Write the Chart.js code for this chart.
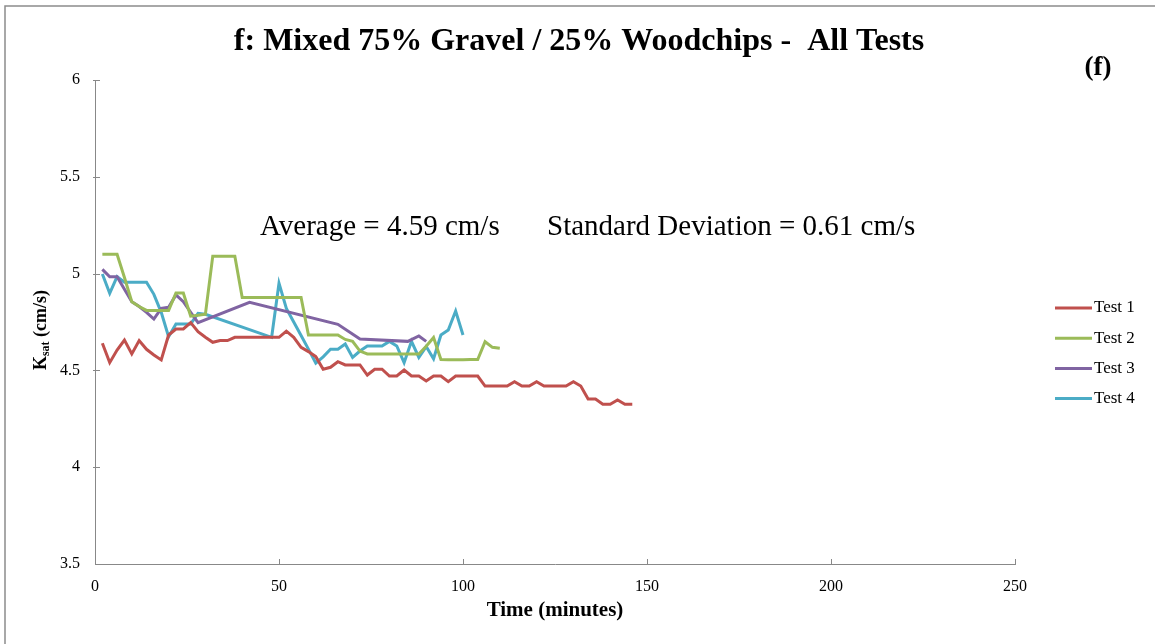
<!DOCTYPE html>
<html>
<head>
<meta charset="utf-8">
<script src="https://cdn.jsdelivr.net/npm/chart.js@4.4.1/dist/chart.umd.min.js"></script>
<style>
  html, body { margin: 0; padding: 0; background: #ffffff; }
  #wrap { position: relative; width: 1155px; height: 644px; }
</style>
</head>
<body>
<div id="wrap"><canvas id="c" width="1155" height="644"></canvas></div>
<script>
// Saturated hydraulic conductivity (cm/s) over elapsed time (minutes), four tests
const test1Time = [2,4,6,8,10,12,14,16,18,20,22,24,26,28,30,32,34,36,38,40,42,44,46,48,50,52,54,56,58,60,62,64,66,68,70,72,74,76,78,80,82,84,86,88,90,92,94,96,98,100,102,104,106,108,110,112,114,116,118,120,122,124,126,128,130,132,134,136,138,140,142,144,146];
const test1Ksat = [4.64,4.54,4.605,4.657,4.585,4.654,4.609,4.58,4.554,4.683,4.714,4.714,4.747,4.70,4.671,4.645,4.654,4.654,4.671,4.671,4.671,4.671,4.671,4.671,4.671,4.703,4.671,4.619,4.597,4.571,4.506,4.516,4.545,4.528,4.528,4.528,4.476,4.506,4.506,4.471,4.471,4.502,4.471,4.471,4.445,4.471,4.471,4.442,4.471,4.471,4.471,4.471,4.419,4.419,4.419,4.419,4.442,4.419,4.419,4.442,4.419,4.419,4.419,4.419,4.442,4.419,4.352,4.352,4.325,4.325,4.347,4.325,4.325];

const test2Time = [2,4,6,8,10,12,14,16,18,20,22,24,26,28,30,32,34,36,38,40,42,44,46,48,50,52,54,56,58,60,62,64,66,68,70,72,74,76,78,80,82,84,86,88,90,92,94,96,98,100,102,104,106,108,110];
const test2Ksat = [5.10,5.10,5.10,4.98,4.855,4.83,4.81,4.81,4.81,4.81,4.90,4.90,4.78,4.785,4.79,5.09,5.09,5.09,5.09,4.877,4.877,4.877,4.877,4.877,4.877,4.877,4.877,4.877,4.683,4.683,4.683,4.683,4.683,4.66,4.65,4.60,4.585,4.585,4.585,4.585,4.585,4.585,4.585,4.585,4.625,4.67,4.556,4.555,4.555,4.555,4.556,4.556,4.648,4.619,4.614];

const test3Time = [2,4,6,8,10,12,14,16,18,20,22,24,26,28,42,66,72,85,88,90];
const test3Ksat = [5.022,4.984,4.984,4.919,4.855,4.83,4.80,4.765,4.82,4.826,4.89,4.855,4.80,4.747,4.852,4.738,4.662,4.65,4.678,4.65];

const test4Time = [2,4,6,8,10,12,14,16,18,20,22,24,26,28,30,48,50,52,54,56,58,60,62,64,66,68,70,72,74,76,78,80,82,84,86,88,90,92,94,96,98,100];
const test4Ksat = [4.998,4.898,4.984,4.955,4.955,4.955,4.955,4.893,4.80,4.674,4.74,4.74,4.74,4.795,4.79,4.671,4.95,4.82,4.75,4.68,4.61,4.537,4.57,4.609,4.609,4.636,4.567,4.60,4.626,4.626,4.626,4.65,4.626,4.54,4.65,4.567,4.623,4.56,4.683,4.709,4.807,4.683];

const seriesNames = ['Test 1', 'Test 2', 'Test 3', 'Test 4'];
const seriesColors = ['#C0504D', '#9BBB59', '#8064A2', '#4BACC6'];
const yTickValues = [3.5, 4, 4.5, 5, 5.5, 6];
const yTickLabels = ['3.5', '4', '4.5', '5', '5.5', '6'];
const xTickValues = [0, 50, 100, 150, 200, 250];
const xTickLabels = ['0', '50', '100', '150', '200', '250'];

const chartTitle = 'f: Mixed 75% Gravel / 25% Woodchips -  All Tests';
const panelTag = '(f)';
const averageText = 'Average = 4.59 cm/s';
const stdevText = 'Standard Deviation = 0.61 cm/s';

const SERIF = '"Liberation Serif", "Times New Roman", serif';

function toPoints(ts, vs) { return ts.map((t, i) => ({ x: t, y: vs[i] })); }

const seriesData = [
  toPoints(test1Time, test1Ksat),
  toPoints(test2Time, test2Ksat),
  toPoints(test3Time, test3Ksat),
  toPoints(test4Time, test4Ksat)
];

// Frame, headings, statistics note, y-axis title, inward tick marks and legend
const decorations = {
  id: 'decorations',
  beforeDraw(chart) {
    const ctx = chart.ctx;
    ctx.save();
    ctx.fillStyle = '#ffffff';
    ctx.fillRect(0, 0, chart.width, chart.height);
    ctx.strokeStyle = '#8c8c8c';
    ctx.lineWidth = 1.5;
    ctx.beginPath();
    ctx.moveTo(5, chart.height);
    ctx.lineTo(5, 6);
    ctx.lineTo(chart.width, 6);
    ctx.stroke();
    ctx.restore();
  },
  afterDraw(chart) {
    const ctx = chart.ctx;
    const xs = chart.scales.x, ys = chart.scales.y;
    const area = chart.chartArea;
    ctx.save();

    // tick marks pointing into the plot
    ctx.strokeStyle = '#888888';
    ctx.lineWidth = 1;
    ctx.beginPath();
    yTickValues.forEach(v => {
      if (v === ys.min) return;
      const y = Math.round(ys.getPixelForValue(v)) + 0.5;
      ctx.moveTo(area.left - 2, y);
      ctx.lineTo(area.left + 5, y);
    });
    xTickValues.forEach(v => {
      if (v === xs.min) return;
      const x = Math.round(xs.getPixelForValue(v)) + 0.5;
      ctx.moveTo(x, area.bottom);
      ctx.lineTo(x, area.bottom - 5);
    });
    ctx.stroke();

    // headings
    ctx.fillStyle = '#000000';
    ctx.textBaseline = 'middle';
    ctx.textAlign = 'center';
    ctx.font = 'bold 32px ' + SERIF;
    ctx.fillText(chartTitle, 579, 42);
    ctx.font = 'bold 27px ' + SERIF;
    ctx.fillText(panelTag, 1098, 68);

    // statistics note
    ctx.textAlign = 'left';
    ctx.font = '29px ' + SERIF;
    ctx.fillText(averageText, 260, 227);
    ctx.fillText(stdevText, 547, 227);

    // y-axis title with subscript
    ctx.save();
    ctx.translate(41, 330);
    ctx.rotate(-Math.PI / 2);
    const mainFont = 'bold 18px ' + SERIF;
    const subFont = 'bold 12px ' + SERIF;
    ctx.font = mainFont; const wK = ctx.measureText('K').width;
    const wRest = ctx.measureText(' (cm/s)').width;
    ctx.font = subFont; const wSub = ctx.measureText('sat').width;
    let px = -(wK + wSub + wRest) / 2;
    ctx.textAlign = 'left';
    ctx.font = mainFont; ctx.fillText('K', px, 0); px += wK;
    ctx.font = subFont; ctx.fillText('sat', px, 5); px += wSub;
    ctx.font = mainFont; ctx.fillText(' (cm/s)', px, 0);
    ctx.restore();

    // legend
    ctx.font = '17px ' + SERIF;
    ctx.textAlign = 'left';
    ctx.lineWidth = 3;
    chart.data.datasets.forEach((ds, i) => {
      const y = 308 + i * 30.2;
      ctx.strokeStyle = ds.borderColor;
      ctx.beginPath();
      ctx.moveTo(1055, y);
      ctx.lineTo(1092, y);
      ctx.stroke();
      ctx.fillStyle = '#000000';
      ctx.fillText(ds.label, 1094, y);
    });
    ctx.restore();
  }
};

new Chart(document.getElementById('c'), {
  type: 'line',
  data: {
    datasets: seriesNames.map((name, i) => ({
      label: name,
      data: seriesData[i],
      borderColor: seriesColors[i],
      backgroundColor: seriesColors[i],
      borderWidth: 3,
      pointRadius: 0,
      tension: 0,
      fill: false
    }))
  },
  options: {
    responsive: false,
    animation: false,
    devicePixelRatio: 1,
    layout: { padding: { left: 0, right: 140, top: 80, bottom: 0 } },
    plugins: { legend: { display: false }, title: { display: false }, tooltip: { enabled: false } },
    scales: {
      x: {
        type: 'linear',
        min: 0, max: 250,
        afterBuildTicks: s => { s.ticks = xTickValues.map(v => ({ value: v })); },
        afterFit: s => { s.height = 80; },
        ticks: {
          color: '#000000', padding: 13, font: { family: SERIF, size: 16 },
          callback: v => xTickLabels[xTickValues.indexOf(v)]
        },
        grid: { drawOnChartArea: false, drawTicks: false },
        border: { color: '#888888', width: 1 },
        title: { display: true, text: 'Time (minutes)', color: '#000000', font: { family: SERIF, size: 21, weight: 'bold' }, padding: { top: 0, bottom: 21 } }
      },
      y: {
        min: 3.5, max: 6,
        afterBuildTicks: s => { s.ticks = yTickValues.map(v => ({ value: v })); },
        afterFit: s => { s.width = 95; },
        ticks: {
          color: '#000000', padding: 15, font: { family: SERIF, size: 16 },
          callback: v => yTickLabels[yTickValues.indexOf(v)]
        },
        grid: { drawOnChartArea: false, drawTicks: false },
        border: { color: '#888888', width: 1 }
      }
    }
  },
  plugins: [decorations]
});
</script>
</body>
</html>
